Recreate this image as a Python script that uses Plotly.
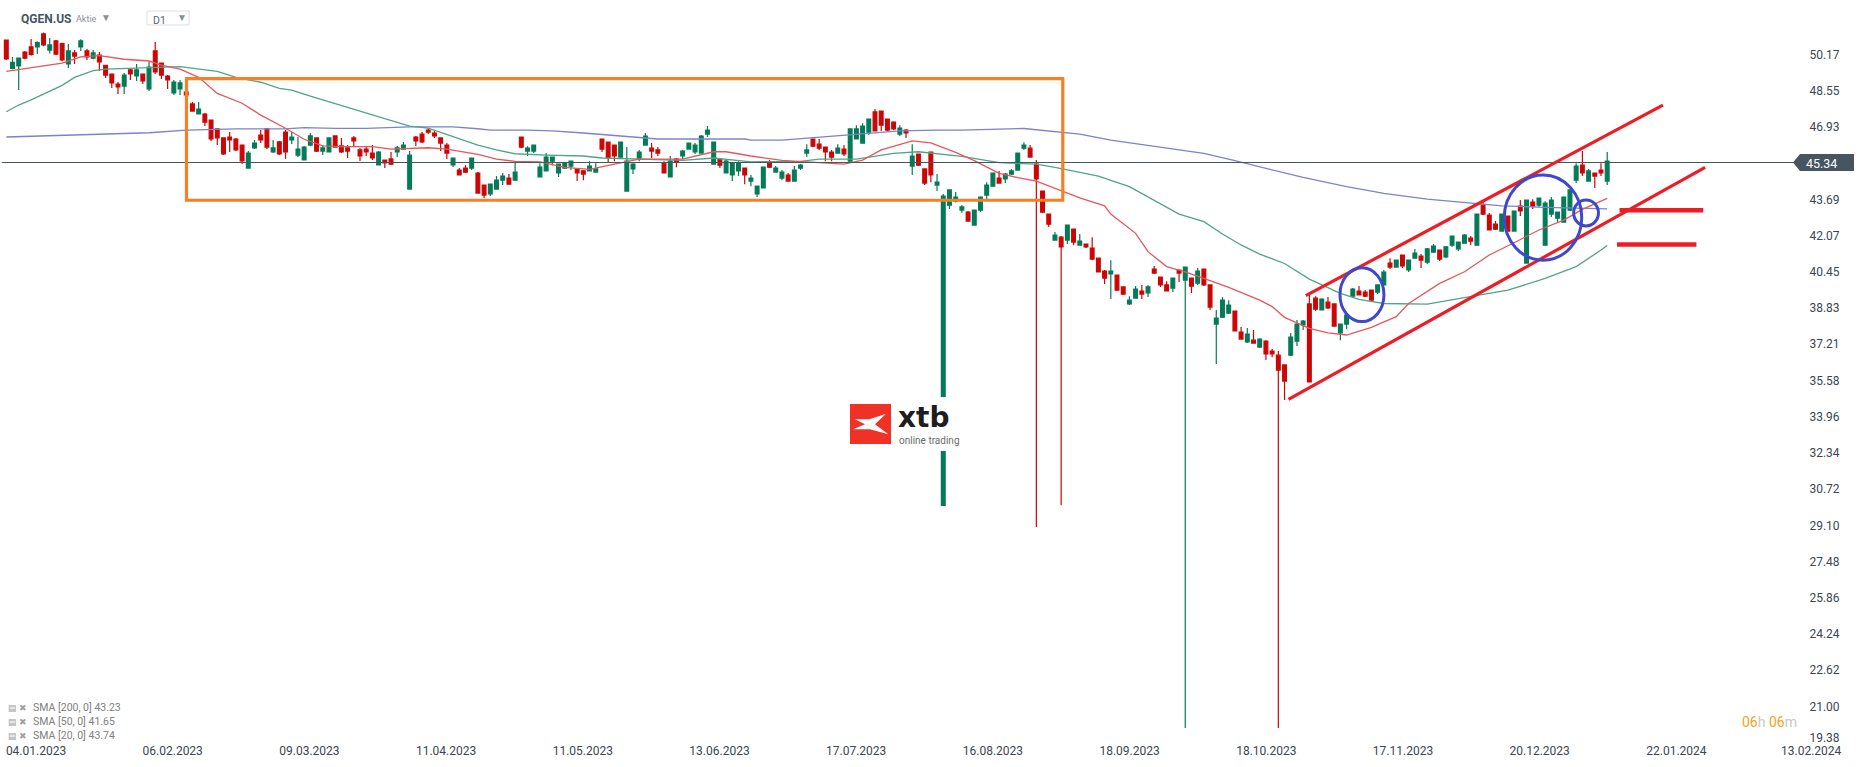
# QGEN.US daily candles with SMA overlays and hand-drawn channel markup
import plotly.graph_objects as go

# ── Theme ─────────────────────────────────────────────────────────────────────
GREEN  = "#047b58"
RED    = "#cc0606"
ORANGE = "#f97f26"
MARKER = "#ee1c25"
CIRCLE = "#3f48cc"
SLATE  = "#465560"
TEXT   = "#3c4650"
FONT   = "Roboto, sans-serif"

WIDTH, HEIGHT = 1866, 767
PLOT_W, PLOT_H = 1790, 742

# ── Data ──────────────────────────────────────────────────────────────────────
direction = (
    "RGGRRGRGRR" "GRGRGRRRRG" "RGRGRRRGGR" "RGRRRRRRRG" "GRRGRRGGGG"
    "RGGRRRRRRR" "GRRGGGRRRR" "RRGRRGRRGG" "GRGRGGGGGG" "GGRRGGRRRG"
    "GGGGRRRGRG" "GGGGGRGGGR" "GGGRGGRGGG" "RRRRGRGGGG" "RRRRGRGRRR"
    "GGGGGRGGGG" "RGGGGRRRRG" "RGRGRRRRGR" "RGGRGRRRGR" "GRGRRGGGRR"
    "GRGRRRRGGG" "RRGRRGGGRR" "RGGRGRGGRG" "GRGGGGRGRR" "RGRGRGRGGG"
    "GGGGRGRRG"
)
price_high = [
    50.82,50.06,50.01,50.33,50.87,50.76,51.16,50.91,50.82,50.70,
    50.64,50.37,50.85,50.42,50.37,50.28,49.69,49.30,48.94,49.34,
    49.54,49.75,49.30,49.84,50.73,49.79,49.25,49.03,49.03,48.49,
    48.05,48.05,47.55,47.24,46.84,46.44,46.70,46.44,46.12,45.85,
    46.35,46.79,46.88,46.35,46.30,46.79,46.70,46.48,46.08,46.66,
    46.44,46.12,46.44,46.53,46.44,46.12,46.53,45.99,46.08,46.12,
    45.85,45.45,45.81,46.08,46.26,45.85,46.53,46.70,46.88,46.75,
    46.44,46.21,45.54,45.09,45.23,45.54,44.91,44.33,44.37,44.73,
    44.87,44.82,45.33,46.48,46.07,46.12,45.31,45.76,45.58,45.27,
    45.33,45.40,45.05,45.00,45.40,45.31,46.39,46.25,46.12,46.25,
    46.03,45.31,45.90,46.66,46.21,46.03,45.40,45.63,45.54,45.90,
    46.21,46.21,46.57,46.97,46.25,45.54,45.45,45.36,45.40,45.09,
    44.78,44.28,45.13,45.45,45.18,45.00,44.87,45.18,45.27,46.16,
    46.39,46.39,46.03,45.90,46.16,46.12,46.84,47.01,47.10,47.28,
    47.73,47.64,47.28,47.19,47.01,46.84,46.16,45.72,45.05,45.81,
    44.82,43.93,44.11,44.02,43.43,43.17,43.21,43.79,44.46,44.87,
    44.96,44.87,45.05,45.76,46.25,46.12,45.45,44.06,43.03,42.23,
    42.05,42.54,42.36,42.14,41.69,42.00,41.06,40.53,40.97,40.30,
    39.77,39.36,39.81,39.86,39.86,40.71,40.21,40.03,40.17,40.53,
    40.66,40.17,40.62,40.57,39.86,38.74,39.32,39.18,38.69,37.98,
    37.93,37.84,37.48,37.39,36.99,36.90,36.28,37.71,38.29,38.29,
    39.41,39.36,39.27,39.32,39.01,38.11,38.56,39.72,39.81,39.63,
    39.63,39.86,40.53,41.06,40.97,41.20,40.97,41.47,41.24,41.51,
    41.69,41.42,41.60,42.05,41.78,42.14,42.05,43.03,43.57,43.08,
    42.72,43.03,42.94,43.17,43.66,43.66,43.70,43.75,43.61,43.79,
    43.12,43.79,44.11,45.31,45.85,45.05,44.87,45.31,45.81,
]
body_top = [
    50.82,49.82,50.01,50.28,50.51,50.70,51.09,50.60,50.78,50.66,
    50.33,50.24,50.78,50.33,50.24,50.15,49.69,49.30,48.85,49.25,
    49.48,49.48,49.30,49.61,50.33,49.79,49.21,48.94,48.90,48.49,
    47.96,47.73,47.51,47.24,46.84,46.44,46.48,46.39,46.12,45.76,
    46.21,46.57,46.84,45.99,46.26,46.70,46.48,45.94,46.03,46.53,
    46.44,45.99,46.44,46.53,46.08,45.99,46.44,45.90,45.94,45.76,
    45.81,45.45,45.50,45.99,46.12,45.67,46.48,46.61,46.79,46.66,
    46.44,46.12,45.54,45.00,45.09,45.54,44.87,44.33,44.37,44.55,
    44.73,44.64,44.91,46.48,45.98,46.12,45.13,45.58,45.58,45.27,
    45.33,45.40,45.05,44.96,45.18,45.05,46.39,46.25,46.12,46.25,
    45.40,45.27,45.81,46.52,45.98,45.90,45.31,45.40,45.49,45.85,
    46.21,46.12,46.52,46.79,46.25,45.49,45.40,45.31,45.31,45.09,
    44.64,44.28,45.13,45.31,45.09,44.91,44.78,45.00,45.22,45.90,
    46.39,46.16,46.03,45.81,45.98,45.94,46.84,46.84,46.97,47.28,
    47.60,47.64,47.28,47.15,46.88,46.79,45.63,45.72,45.05,45.81,
    44.46,43.84,44.11,43.79,43.35,43.12,43.21,43.79,44.33,44.87,
    44.64,44.82,44.96,45.76,46.12,45.98,45.27,44.06,43.03,42.09,
    42.00,42.54,42.36,41.82,41.69,41.51,41.06,40.48,40.48,40.30,
    39.77,39.18,39.68,39.59,39.77,40.57,40.21,39.86,40.17,40.53,
    40.66,40.17,40.48,40.57,39.86,38.38,39.18,38.96,38.69,37.75,
    37.66,37.39,37.44,37.35,36.90,36.72,36.28,37.53,38.11,38.24,
    39.01,39.27,39.23,39.09,39.01,38.11,38.51,39.68,39.59,39.54,
    39.63,39.86,40.44,40.84,40.97,41.20,40.97,41.29,41.15,41.47,
    41.60,41.42,41.56,42.05,41.78,42.09,41.96,43.03,43.43,42.99,
    42.58,43.03,42.94,43.17,43.39,43.66,43.57,43.75,43.52,43.66,
    43.12,43.79,44.11,45.18,45.22,44.96,44.87,45.00,45.40,
]
body_bottom = [
    49.97,49.55,49.66,50.01,50.18,50.51,50.60,50.37,50.19,49.93,
    49.75,50.10,50.51,50.06,50.01,49.84,49.25,48.90,48.72,48.76,
    49.30,49.21,48.99,48.63,49.39,49.25,49.03,48.45,48.63,48.36,
    47.64,47.51,47.15,46.39,46.44,45.72,46.35,45.90,45.41,45.09,
    45.99,46.35,46.03,45.81,45.72,45.81,46.35,45.67,45.45,46.12,
    45.85,45.85,45.81,46.03,45.81,45.85,46.30,45.63,45.81,45.54,
    45.23,45.32,45.27,45.81,45.94,44.15,46.30,46.26,46.70,46.53,
    46.21,45.76,45.23,44.78,44.91,45.09,43.97,43.88,43.93,44.15,
    44.55,44.37,44.55,46.03,45.85,45.85,44.69,44.96,45.40,44.87,
    45.09,45.18,44.87,44.82,44.96,44.91,45.94,45.54,45.63,45.58,
    44.06,45.05,45.49,46.12,45.85,45.76,44.87,44.69,45.36,45.63,
    45.94,45.81,45.76,46.61,45.27,45.22,44.87,44.78,44.96,44.78,
    44.51,43.93,44.20,45.13,44.91,44.64,44.51,44.51,45.09,45.76,
    46.07,45.98,45.81,45.58,45.76,45.72,45.40,46.39,46.21,46.70,
    46.75,47.01,46.79,46.84,46.61,46.66,45.18,45.22,44.42,44.78,
    44.33,30.00,43.43,43.61,43.21,42.72,42.54,43.21,43.88,44.28,
    44.42,44.60,44.82,45.00,45.98,45.58,44.60,43.12,42.58,41.87,
    41.56,41.87,41.78,41.64,41.56,41.02,40.44,40.17,40.35,39.63,
    39.45,39.01,39.27,39.45,39.50,40.39,39.86,39.59,39.72,40.39,
    40.08,39.81,39.94,39.86,38.87,38.11,38.42,38.60,37.80,37.44,
    37.31,37.26,37.08,36.77,36.77,36.05,35.56,36.72,37.35,38.07,
    35.52,38.78,38.74,38.83,38.02,37.71,38.11,39.36,39.41,39.36,
    39.18,39.54,39.86,40.66,40.66,40.71,40.53,41.06,40.97,40.88,
    41.33,41.02,41.11,41.64,41.47,41.73,41.82,41.64,43.03,42.32,
    42.36,42.27,42.27,42.27,43.17,40.84,43.39,43.43,41.64,43.03,
    42.85,42.67,43.21,44.55,44.87,44.51,44.73,44.87,44.51,
]
price_low = [
    49.93,49.51,48.58,49.96,50.12,50.19,50.54,50.22,50.15,49.87,
    49.57,49.75,50.33,49.93,49.96,49.43,49.12,48.67,48.40,48.40,
    49.03,48.99,48.85,48.54,49.30,49.08,48.63,48.36,48.36,48.28,
    47.64,47.51,46.97,46.30,46.12,45.67,45.81,45.85,45.27,45.09,
    45.94,46.21,45.94,45.76,45.67,45.50,46.17,45.59,45.45,46.08,
    45.81,45.67,45.81,46.03,45.76,45.54,46.08,45.41,45.63,45.45,
    45.23,45.09,45.23,45.59,45.90,44.15,46.08,46.21,46.61,46.44,
    45.85,45.50,45.14,44.78,44.87,45.00,43.97,43.75,43.84,44.15,
    44.33,44.37,44.55,45.98,45.63,45.76,44.69,44.96,45.22,44.69,
    45.05,45.00,44.51,44.55,44.96,44.91,45.81,45.36,45.40,45.54,
    44.06,44.82,45.40,46.12,45.54,45.63,44.87,44.69,45.13,45.49,
    45.94,45.72,45.76,46.48,45.27,45.09,44.87,44.51,44.73,44.37,
    44.28,43.79,44.20,45.09,44.91,44.55,44.51,44.51,45.00,45.58,
    46.03,45.90,45.40,45.40,45.76,45.63,45.40,46.39,46.21,46.57,
    46.75,46.75,46.75,46.79,46.52,46.43,44.78,45.18,44.33,44.46,
    44.06,30.00,43.26,43.55,43.08,42.72,42.54,43.12,43.70,44.28,
    44.42,44.42,44.78,45.00,45.90,45.58,29.03,43.08,42.45,41.87,
    30.00,41.69,41.64,41.64,41.51,40.97,40.44,39.90,39.23,39.59,
    39.41,38.96,39.27,39.23,39.32,40.35,39.77,39.59,39.54,39.99,
    20.04,39.50,39.86,39.81,38.74,36.32,38.38,38.56,37.80,37.44,
    37.26,37.26,37.04,36.50,36.63,20.04,34.71,36.68,37.13,37.84,
    35.52,38.69,38.74,38.78,38.02,37.39,37.89,39.32,39.41,39.32,
    39.14,39.45,39.86,40.57,40.66,40.62,40.44,41.06,40.62,40.79,
    41.29,40.93,41.06,41.56,41.38,41.73,41.64,41.64,42.99,42.32,
    42.32,42.27,42.27,42.27,42.94,40.84,43.26,43.35,41.64,42.90,
    42.67,42.67,43.17,44.42,44.73,44.51,44.20,44.73,44.33,
]

sma20_x = [0,9,12,15,19,23,25,28,31,34,38,41,45,48,51,54,59,62,68,71,76,79,82,86,90,94,98,102,109,114,116,
           120,125,130,135,138,141,146,149,153,156,160,163,166,169,173,177,178,182,184,187,190,194,197,202,
           204,206,210,213,216,220,224,226,229,231,235,239,243,247,251,254,258]
sma20_y = [49.42,49.79,50.07,50.12,49.96,49.88,49.70,49.52,49.15,48.43,47.99,47.46,46.87,46.38,46.08,46.05,
           46.05,45.94,46.00,45.94,45.70,45.49,45.39,45.37,45.12,45.03,45.27,45.49,45.49,45.82,45.82,
           45.63,45.43,45.34,45.27,45.45,45.90,46.31,46.22,45.79,45.42,44.85,44.66,44.51,44.18,43.76,43.40,
           43.03,42.17,41.35,40.68,40.45,40.05,39.75,39.18,38.89,38.41,37.92,37.72,37.62,37.96,38.44,39.03,
           39.56,39.93,40.45,41.20,41.75,42.32,42.76,43.24,43.73]
sma50_x = [0,2,4,6,9,11,14,16,23,28,34,37,41,44,46,49,55,61,65,68,71,76,79,82,87,93,96,102,109,114,120,128,
           131,137,143,147,154,160,166,169,176,181,185,189,193,196,199,202,206,210,215,218,222,229,235,242,
           248,253,257,258]
sma50_y = [47.61,47.91,48.14,48.40,48.79,49.15,49.45,49.52,49.60,49.63,49.42,49.15,48.93,48.66,48.58,48.31,
           47.81,47.29,46.97,46.88,46.60,46.12,45.90,45.73,45.67,45.63,45.54,45.49,45.43,45.54,45.37,45.39,
           45.49,45.49,45.75,45.82,45.61,45.33,45.27,45.12,44.73,44.26,43.66,43.03,42.69,42.14,41.65,41.24,
           40.82,40.12,39.48,39.21,39.03,39.00,39.29,39.63,40.15,40.68,41.42,41.63]
sma200_x = [0,7,17,23,29,37,45,48,53,58,65,72,76,78,84,88,93,98,105,119,120,125,130,136,144,150,154,164,168,
            173,178,185,193,198,202,209,216,222,229,237,241,248,258]
sma200_y = [46.48,46.54,46.60,46.67,46.79,46.84,46.84,46.90,46.87,46.87,46.93,46.93,46.85,46.79,46.79,46.75,
            46.66,46.54,46.39,46.39,46.34,46.34,46.45,46.57,46.75,46.79,46.79,46.86,46.75,46.61,46.34,46.07,
            45.75,45.42,45.14,44.67,44.26,43.96,43.70,43.51,43.40,43.33,43.26]

last_price = 45.34
price_ticks = [50.17,48.55,46.93,43.69,42.07,40.45,38.83,37.21,35.58,33.96,32.34,30.72,29.10,27.48,25.86,24.24,22.62,21.00]
date_labels = ["04.01.2023","06.02.2023","09.03.2023","11.04.2023","11.05.2023","13.06.2023","17.07.2023",
               "16.08.2023","18.09.2023","18.10.2023","17.11.2023","20.12.2023","22.01.2024"]
last_date_label = "13.02.2024"
legend_labels = ["SMA [200, 0] 43.23", "SMA [50, 0] 41.65", "SMA [20, 0] 43.74"]


def px(x):
    return x / PLOT_W


def py(y):
    return 1 - y / PLOT_H


def label(x, y, text, size=12, color=TEXT, anchor="left", family=FONT):
    return dict(x=px(x), y=py(y), xref="paper", yref="paper", text=text, showarrow=False,
                xanchor=anchor, yanchor="middle", font=dict(family=family, size=size, color=color))


def polygon(points, fill):
    path = "M " + " L ".join(f"{px(x):.5f},{py(y):.5f}" for x, y in points) + " Z"
    return dict(type="path", xref="paper", yref="paper", path=path, fillcolor=fill, line=dict(width=0))


opens  = [b if d == "G" else t for d, t, b in zip(direction, body_top, body_bottom)]
closes = [t if d == "G" else b for d, t, b in zip(direction, body_top, body_bottom)]

fig = go.Figure()
fig.add_trace(go.Candlestick(
    x=list(range(len(opens))), open=opens, high=price_high, low=price_low, close=closes,
    increasing=dict(line=dict(color=GREEN, width=1.2), fillcolor=GREEN),
    decreasing=dict(line=dict(color=RED, width=1.2), fillcolor=RED),
    whiskerwidth=0, hoverinfo="skip", showlegend=False,
))
for xs, ys, color in [(sma200_x, sma200_y, "#7c82cb"), (sma50_x, sma50_y, "#4fa586"), (sma20_x, sma20_y, "#e5575b")]:
    fig.add_trace(go.Scatter(x=xs, y=ys, mode="lines", line=dict(color=color, width=1.3),
                             hoverinfo="skip", showlegend=False))

# ── Markup shapes ─────────────────────────────────────────────────────────────
shapes = [
    dict(type="line", xref="paper", yref="y", x0=0.001, x1=px(1795), y0=last_price, y1=last_price,
         line=dict(color=SLATE, width=1.2)),
    dict(type="rect", x0=29.04, x1=170.26, y0=43.65, y1=49.09, line=dict(color=ORANGE, width=3.2)),
    dict(type="line", x0=209.43, x1=266.98, y0=39.38, y1=47.91, line=dict(color=MARKER, width=3.2)),
    dict(type="line", x0=206.63, x1=273.78, y0=34.74, y1=45.12, line=dict(color=MARKER, width=3.2)),
    dict(type="line", x0=259.99, x1=273.48, y0=43.20, y1=43.20, line=dict(color=MARKER, width=4.5)),
    dict(type="line", x0=259.59, x1=272.38, y0=41.67, y1=41.67, line=dict(color=MARKER, width=4.5)),
    dict(type="circle", x0=214.93, x1=222.02, y0=38.22, y1=40.63, line=dict(color=CIRCLE, width=3)),
    dict(type="circle", x0=241.41, x1=253.9, y0=40.97, y1=44.78, line=dict(color=CIRCLE, width=3)),
    dict(type="circle", x0=252.6, x1=256.59, y0=42.50, y1=43.66, line=dict(color=CIRCLE, width=3)),
    # xtb logo
    dict(type="rect", xref="paper", yref="paper", x0=px(845), x1=px(965), y0=py(451), y1=py(397),
         fillcolor="white", line=dict(width=0)),
    dict(type="rect", xref="paper", yref="paper", x0=px(850), x1=px(891), y0=py(444), y1=py(404),
         fillcolor="#f03226", line=dict(width=0)),
    polygon([(855, 419.3), (869.3, 419.3), (885.7, 414), (875, 424.3), (888.3, 434.3), (870, 429.3),
             (853.3, 429.3), (865, 424.3)], "white"),
    # header dropdown box
    dict(type="rect", xref="paper", yref="paper", x0=px(147), x1=px(189), y0=py(25), y1=py(11),
         fillcolor="white", line=dict(color="#dcdfe3", width=1)),
    # price tag
    polygon([(1793, 162.5), (1800, 154), (1854, 154), (1854, 171), (1800, 171)], SLATE),
]

annotations = [
    label(19, 19, "<b>QGEN.US</b>", size=12, color=SLATE),
    label(74, 19, "Aktie", size=9, color="#8a8f96"),
    label(105.5, 17, "▼", size=10, color="#8a8f96", anchor="center"),
    label(151, 20, "D1", size=10.5, color="#5b6670"),
    label(181.5, 17, "▼", size=10, color="#8a8f96", anchor="center"),
    label(896, 417, "<b>xtb</b>", size=28, color="#1e1e1e", family="DejaVu Sans"),
    label(897, 440, "online trading", size=10, color="#6b6b6b"),
    label(1821, 163.5, f"{last_price:.2f}", size=12.5, color="white", anchor="center"),
    label(1811.7, 750.7, last_date_label, size=12, anchor="center"),
    label(1740, 722, '<span style="color:#f7a11a">06</span><span style="color:#c8c8c8">h</span> '
                     '<span style="color:#f7a11a">06</span><span style="color:#c8c8c8">m</span>', size=14),
]
for row, text in enumerate(legend_labels):
    annotations.append(label(6, 707.5 + 14 * row, "▤ ✖", size=9, color="#a0a0a0"))
    annotations.append(label(31, 707.5 + 14 * row, text, size=10.5, color="#808080"))

fig.update_layout(
    width=WIDTH, height=HEIGHT,
    paper_bgcolor="white", plot_bgcolor="white",
    font=dict(family=FONT, color=TEXT, size=12),
    margin=dict(l=0, r=WIDTH - PLOT_W, t=0, b=HEIGHT - PLOT_H, pad=0),
    showlegend=False, boxgap=0.22, boxgroupgap=0.22,
    shapes=shapes, annotations=annotations,
    xaxis=dict(
        range=[-1.015, 287.46], rangeslider=dict(visible=False), showgrid=False, zeroline=False,
        tickmode="array", tickvals=[4.79 + 22.03 * k for k in range(len(date_labels))], ticktext=date_labels,
        ticks="", showline=False, tickfont=dict(size=12, color=TEXT),
    ),
    yaxis=dict(
        range=[19.41, 52.61], side="right", showgrid=False, zeroline=False, showline=False,
        tickmode="array", tickvals=price_ticks + [19.62], ticktext=[f"{v:.2f}" for v in price_ticks] + ["19.38"],
        ticks="outside", ticklen=16, tickcolor="rgba(0,0,0,0)", tickfont=dict(size=12, color=TEXT),
    ),
)

fig.write_html("out.html", config={"displayModeBar": False}, post_script="document.body.style.margin='0';")
